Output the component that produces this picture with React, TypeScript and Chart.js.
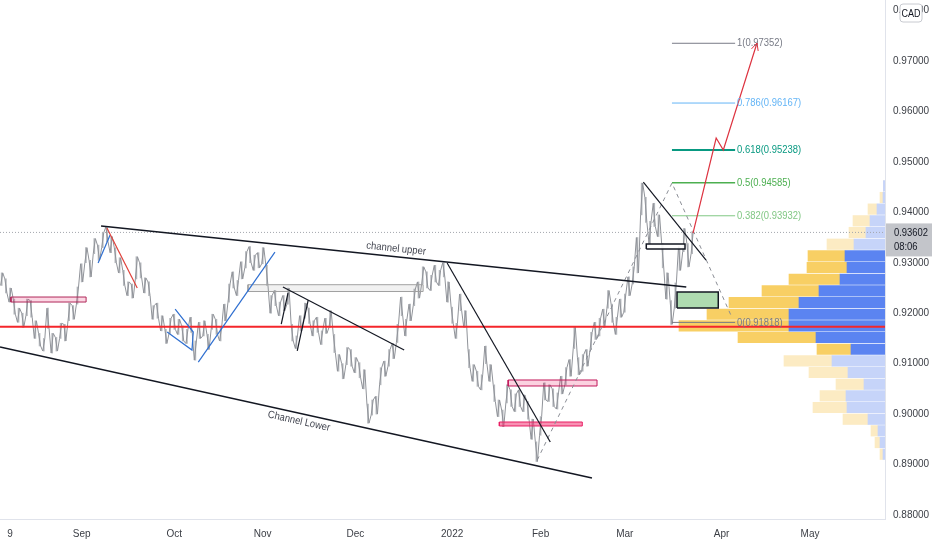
import React, { useEffect, useRef } from 'react';
import { Chart, registerables } from 'chart.js';

Chart.register(...registerables);

// Daily bars, index 0 = Aug 9 2021 (weekdays only), first bar is index -2
const firstDay = -2;
const dayLows = [
  0.9255, 0.9240, 0.9222, 0.9198, 0.9182, 0.9172, 0.9195, 0.9192, 0.9150, 0.9135,
  0.9125, 0.9170, 0.9121, 0.9125, 0.9150, 0.9145, 0.9185, 0.9188, 0.9218, 0.9262,
  0.9300, 0.9272, 0.9318, 0.9305, 0.9330, 0.9342, 0.9320, 0.9300, 0.9280, 0.9255,
  0.9235, 0.9230, 0.9268, 0.9270, 0.9240, 0.9235, 0.9188, 0.9190, 0.9165, 0.9140,
  0.9160, 0.9168, 0.9158, 0.9145, 0.9140, 0.9162, 0.9107, 0.9150, 0.9155, 0.9128,
  0.9168, 0.9158, 0.9145, 0.9185, 0.9222, 0.9250, 0.9235, 0.9268, 0.9290, 0.9300,
  0.9285, 0.9290, 0.9298, 0.9255, 0.9200, 0.9215, 0.9195, 0.9205, 0.9218, 0.9145,
  0.9130, 0.9165, 0.9190, 0.9180, 0.9155, 0.9162, 0.9138, 0.9160, 0.9172, 0.9122,
  0.9085, 0.9070, 0.9098, 0.9095, 0.9082, 0.9072, 0.9050, 0.8982, 0.8998, 0.9000,
  0.9058, 0.9075, 0.9095, 0.9110, 0.9142, 0.9195, 0.9155, 0.9185, 0.9215, 0.9230,
  0.9258, 0.9250, 0.9245, 0.9262, 0.9255, 0.9272, 0.9222, 0.9180, 0.9150, 0.9205,
  0.9172, 0.9092, 0.9065, 0.9055, 0.9048, 0.9100, 0.9065, 0.9025, 0.8995, 0.8975,
  0.9022, 0.9015, 0.9005, 0.9015, 0.9005, 0.8990, 0.8950, 0.8906, 0.8958, 0.9028,
  0.9025, 0.9015, 0.9010, 0.9040, 0.9058, 0.9075, 0.9130, 0.9078, 0.9085, 0.9095,
  0.9128, 0.9148, 0.9155, 0.9172, 0.9210, 0.9182, 0.9158, 0.9192, 0.9202, 0.9235,
  0.9258, 0.9280, 0.9395, 0.9380, 0.9338, 0.9372, 0.9352, 0.9290, 0.9228, 0.9178,
  0.9210, 0.9285, 0.9322, 0.9292, 0.9318,
];
const dayHighs = [
  0.9280, 0.9268, 0.9250, 0.9228, 0.9210, 0.9200, 0.9228, 0.9225, 0.9185, 0.9160,
  0.9150, 0.9210, 0.9160, 0.9152, 0.9180, 0.9178, 0.9220, 0.9215, 0.9252, 0.9298,
  0.9330, 0.9305, 0.9348, 0.9335, 0.9360, 0.9371, 0.9352, 0.9330, 0.9310, 0.9285,
  0.9262, 0.9258, 0.9312, 0.9300, 0.9270, 0.9262, 0.9215, 0.9220, 0.9195, 0.9168,
  0.9190, 0.9198, 0.9188, 0.9175, 0.9168, 0.9192, 0.9145, 0.9182, 0.9185, 0.9158,
  0.9198, 0.9188, 0.9172, 0.9218, 0.9258, 0.9282, 0.9265, 0.9302, 0.9322, 0.9332,
  0.9315, 0.9320, 0.9330, 0.9295, 0.9235, 0.9245, 0.9222, 0.9235, 0.9250, 0.9178,
  0.9155, 0.9195, 0.9220, 0.9210, 0.9185, 0.9192, 0.9165, 0.9190, 0.9205, 0.9158,
  0.9118, 0.9100, 0.9132, 0.9128, 0.9112, 0.9102, 0.9088, 0.9020, 0.9028, 0.9035,
  0.9092, 0.9105, 0.9128, 0.9140, 0.9178, 0.9232, 0.9188, 0.9218, 0.9248, 0.9262,
  0.9292, 0.9282, 0.9275, 0.9295, 0.9285, 0.9300, 0.9262, 0.9212, 0.9180, 0.9238,
  0.9205, 0.9128, 0.9098, 0.9085, 0.9078, 0.9135, 0.9098, 0.9058, 0.9028, 0.9008,
  0.9058, 0.9048, 0.9040, 0.9048, 0.9038, 0.9025, 0.8990, 0.8945, 0.8995, 0.9062,
  0.9058, 0.9050, 0.9042, 0.9075, 0.9092, 0.9108, 0.9172, 0.9112, 0.9118, 0.9128,
  0.9162, 0.9182, 0.9190, 0.9208, 0.9245, 0.9218, 0.9192, 0.9228, 0.9238, 0.9272,
  0.9292, 0.9350, 0.9458, 0.9430, 0.9382, 0.9418, 0.9395, 0.9338, 0.9280, 0.9225,
  0.9260, 0.9332, 0.9368, 0.9338, 0.9362,
];

const xMin = -2.4;
const xMax = 207.8;
const dateTicks = [0, 17, 39, 60, 82, 105, 126, 146, 169, 190];
const dateLabels = ['9', 'Sep', 'Oct', 'Nov', 'Dec', '2022', 'Feb', 'Mar', 'Apr', 'May'];
const priceMin = 0.8792;
const priceMax = 0.9821;
const priceTicks = [0.88, 0.89, 0.9, 0.91, 0.92, 0.93, 0.94, 0.95, 0.96, 0.97, 0.98];

const lastPrice = 0.93602;
const countdown = '08:06';
const currency = 'CAD';
const supportPrice = 0.91733;

// trend-based fib extension
const fibRatios = [1, 0.786, 0.618, 0.5, 0.382, 0];
const fibPrices = [0.97352, 0.96167, 0.95238, 0.94585, 0.93932, 0.91818];
const fibSpan = [157.2, 172.2];
const fibColors = ['#787b86', '#64b5f6', '#089981', '#4caf50', '#81c784', '#787b86'];
const fibWidths = [1, 1, 2, 1.5, 1, 1];

// visible range volume profile
const profileRows = [
  0.94526, 0.94294, 0.94064, 0.93832, 0.936, 0.93368, 0.93138, 0.92906,
  0.92674, 0.92444, 0.92212, 0.9198, 0.9175, 0.91518, 0.91286, 0.91056,
  0.90824, 0.90592, 0.90362, 0.9013, 0.89898, 0.89668, 0.89436, 0.89204,
];
const profileUp = [0.8, 1, 4, 7.5, 9.5, 15.5, 20, 19, 22.5, 33, 43, 48, 48, 34.5, 17, 26.5, 18.5, 10.5, 19.5, 19, 8.5, 3.5, 2.5, 1];
const profileDown = [0, 1.5, 4.5, 8.5, 8.5, 13.5, 18.5, 20, 25.5, 28.5, 35, 41, 55, 39, 17, 24, 19.5, 14, 13, 17, 12.5, 3.5, 2.5, 1.5];
const valueArea = [6, 14];
const profileMax = 442.5;

// drawings as [bar index, price]
const channelUpper = [[21.6, 0.93729], [160.6, 0.92519]];
const channelLower = [[-2.4, 0.9133], [138.2, 0.88733]];
const janTrend = [[103.8, 0.92995], [128.3, 0.89446]];
const marTrend = [[150.4, 0.94601], [165.3, 0.93055]];
const novTrend = [[64.8, 0.92519], [93.6, 0.9127]];
const novLegA = [[66.0, 0.924], [64.4, 0.91786]];
const novLegB = [[68.2, 0.91251], [70.8, 0.92262]];
const sepDrop = [[23.0, 0.93689], [30.2, 0.925]];
const sepLeg = [[20.9, 0.92995], [23.75, 0.9355]];
const octFlag = [[39.2, 0.92083], [43.5, 0.91627], [43.2, 0.9127], [37.3, 0.91627]];
const octRise = [[44.7, 0.91032], [62.9, 0.93213]];
const projection = [[162.2, 0.9359], [167.7, 0.95473], [169.4, 0.95236], [177.4, 0.97357]];
const swingPath = [[125.2, 0.89089], [157.2, 0.94581], [171.5, 0.91905]];
const channelUpperLabelAt = 91.5;
const channelLowerLabelAt = 69;

// zones as [from index, to index, low, high]
const augZone = [0.2, 18.05, 0.92222, 0.92321];
const novZone = [56.5, 98.1, 0.9243, 0.92565];
const febZoneUpper = [118.3, 139.4, 0.90557, 0.90676];
const febZoneLower = [116.2, 135.9, 0.89764, 0.89843];
const marZone = [151.1, 160.3, 0.93273, 0.93372];
const demandZone = [158.4, 168.2, 0.92103, 0.9242];

const labelFont = '"Liberation Sans", Arial, sans-serif';
const red = '#f4262b';
const squeeze = 0.82;

const seg = (pts: number[][], color: string, width: number, dash: number[] = [], order = 1) => ({
  type: 'line',
  data: pts.map(([x, y]) => ({ x, y })),
  borderColor: color,
  borderWidth: width,
  borderDash: dash,
  pointRadius: 0,
  fill: false,
  tension: 0,
  order,
  xAxisID: 'x',
  yAxisID: 'y',
});

const zone = ([x0, x1, lo, hi]: number[], fillColor: string, border: string, width = 1) => ({
  type: 'line',
  data: [
    { x: x0, y: lo }, { x: x1, y: lo }, { x: x1, y: hi }, { x: x0, y: hi }, { x: x0, y: lo },
  ],
  borderColor: border,
  backgroundColor: fillColor,
  borderWidth: width,
  pointRadius: 0,
  fill: 'shape',
  tension: 0,
  order: 2,
  xAxisID: 'x',
  yAxisID: 'y',
});

// narrow text, like the condensed chart font
const narrowText = (ctx: CanvasRenderingContext2D, text: string, x: number, y: number) => {
  ctx.save();
  ctx.translate(x, y);
  ctx.scale(squeeze, 1);
  ctx.fillText(text, 0, 0);
  ctx.restore();
};

const overlay = {
  id: 'overlay',
  afterDatasetsDraw(chart: any) {
    const { ctx, scales: { x, y } } = chart;
    ctx.save();
    ctx.font = '11.5px ' + labelFont;
    ctx.textBaseline = 'middle';
    ctx.textAlign = 'left';
    fibPrices.forEach((p, k) => {
      ctx.fillStyle = fibColors[k];
      narrowText(ctx, `${fibRatios[k]}(${p.toFixed(5)})`, x.getPixelForValue(fibSpan[1]) + 2, y.getPixelForValue(p));
    });

    const label = (text: string, line: number[][], at: number, offset: number) => {
      const [[x0, y0], [x1, y1]] = line;
      const px0 = x.getPixelForValue(x0), py0 = y.getPixelForValue(y0);
      const px1 = x.getPixelForValue(x1), py1 = y.getPixelForValue(y1);
      const t = (at - x0) / (x1 - x0);
      ctx.save();
      ctx.translate(px0 + t * (px1 - px0), py0 + t * (py1 - py0));
      ctx.rotate(Math.atan2(py1 - py0, px1 - px0));
      ctx.textAlign = 'center';
      ctx.fillStyle = '#434651';
      ctx.font = '10.5px ' + labelFont;
      ctx.scale(0.9, 1);
      ctx.fillText(text, 0, offset);
      ctx.restore();
    };
    label('channel upper', channelUpper, channelUpperLabelAt, -8);
    label('Channel Lower', channelLower, channelLowerLabelAt, 8);

    // arrow head on the projection
    const [ax, ay] = projection[projection.length - 2];
    const [bx, by] = projection[projection.length - 1];
    const tx = x.getPixelForValue(bx), ty = y.getPixelForValue(by);
    const ang = Math.atan2(ty - y.getPixelForValue(ay), tx - x.getPixelForValue(ax));
    ctx.strokeStyle = '#dd3340';
    ctx.lineWidth = 1;
    ctx.beginPath();
    ctx.moveTo(tx - 8 * Math.cos(ang - 0.45), ty - 8 * Math.sin(ang - 0.45));
    ctx.lineTo(tx, ty);
    ctx.lineTo(tx - 8 * Math.cos(ang + 0.45), ty - 8 * Math.sin(ang + 0.45));
    ctx.stroke();
    ctx.restore();
  },
  afterDraw(chart: any) {
    const { ctx, chartArea, width, scales: { y } } = chart;
    const py = y.getPixelForValue(lastPrice);
    ctx.save();
    ctx.fillStyle = '#c3c5ca';
    ctx.fillRect(chartArea.right + 1, py - 9, width - chartArea.right - 1, 33);
    ctx.fillStyle = '#131722';
    ctx.font = '11.5px ' + labelFont;
    ctx.textBaseline = 'middle';
    ctx.textAlign = 'left';
    narrowText(ctx, lastPrice.toFixed(5), chartArea.right + 9, py);
    narrowText(ctx, countdown, chartArea.right + 9, py + 14);

    // currency badge
    const bx = chartArea.right + 15;
    ctx.fillStyle = '#ffffff';
    ctx.strokeStyle = '#c8cad0';
    ctx.beginPath();
    ctx.roundRect(bx, 4, 22, 18, 3);
    ctx.fill();
    ctx.stroke();
    ctx.fillStyle = '#131722';
    ctx.font = '11px ' + labelFont;
    ctx.textAlign = 'center';
    ctx.save();
    ctx.translate(bx + 11, 13.5);
    ctx.scale(squeeze, 1);
    ctx.fillText(currency, 0, 0);
    ctx.restore();
    ctx.restore();
  },
};

const PriceChart = () => {
  const canvasRef = useRef<HTMLCanvasElement>(null);

  useEffect(() => {
    document.body.style.margin = '0';
    if (!canvasRef.current) return;

    const pricePath = dayLows.flatMap((lo, k) => {
      const hi = dayHighs[k];
      const d = firstDay + k;
      return k % 2
        ? [{ x: d - 0.25, y: hi }, { x: d + 0.25, y: lo }]
        : [{ x: d - 0.25, y: lo }, { x: d + 0.25, y: hi }];
    });
    const rangeBars = dayLows.map((lo, k) => ({ x: firstDay + k, y: [lo, dayHighs[k]] }));

    const inValueArea = (r: number) => r >= valueArea[0] && r <= valueArea[1];
    const upBars = profileRows.map((p, r) => ({ x: [0, profileUp[r]], y: p }));
    const downBars = profileRows.map((p, r) => ({ x: [profileUp[r], profileUp[r] + profileDown[r]], y: p }));

    const fibLines = fibPrices.map((p, k) =>
      seg([[fibSpan[0], p], [fibSpan[1], p]], fibColors[k], fibWidths[k]));

    const datasets: any[] = [
      seg(projection, '#dd3340', 1.2),
      seg(channelUpper, '#131722', 1.5),
      seg(channelLower, '#131722', 1.5),
      seg(janTrend, '#131722', 1.2),
      seg(marTrend, '#131722', 1.2),
      seg(novTrend, '#131722', 1.2),
      seg(novLegA, '#131722', 1.2),
      seg(novLegB, '#131722', 1.2),
      seg(sepDrop, '#e0403a', 1.2),
      seg(sepLeg, '#2f6fd0', 1.2),
      seg(octFlag, '#2f6fd0', 1.2),
      seg(octRise, '#2f6fd0', 1.2),
      seg(swingPath, '#8a8d95', 1, [4, 4]),
      ...fibLines,
      seg([[xMin, supportPrice], [xMax, supportPrice]], red, 2),
      zone(augZone, 'rgba(233, 30, 99, 0.18)', '#b0285a'),
      zone(novZone, 'rgba(158, 158, 158, 0.15)', '#a0a0a0'),
      zone(febZoneUpper, 'rgba(233, 30, 99, 0.2)', '#c2185b'),
      zone(febZoneLower, 'rgba(242, 54, 117, 0.55)', '#e91e63'),
      zone(marZone, 'rgba(255, 255, 255, 0.9)', '#131722', 1.5),
      zone(demandZone, 'rgba(76, 175, 80, 0.45)', '#131722', 1.5),
      {
        type: 'line',
        data: pricePath,
        borderColor: '#909399',
        borderWidth: 1,
        pointRadius: 0,
        tension: 0,
        order: 3,
        xAxisID: 'x',
        yAxisID: 'y',
      },
      {
        type: 'bar',
        data: rangeBars,
        backgroundColor: '#b4b7bc',
        borderWidth: 0,
        barThickness: 1,
        grouped: false,
        order: 4,
        xAxisID: 'x',
        yAxisID: 'y',
      },
      seg([[xMin, lastPrice], [xMax, lastPrice]], '#a3a6ad', 1, [1, 2], 5),
      {
        type: 'bar',
        indexAxis: 'y',
        xAxisID: 'xv',
        yAxisID: 'y',
        data: upBars,
        backgroundColor: profileRows.map((_, r) => (inValueArea(r) ? '#5b84f1' : '#c6d4f9')),
        borderWidth: 0,
        barThickness: 10.5,
        grouped: false,
        order: 10,
      },
      {
        type: 'bar',
        indexAxis: 'y',
        xAxisID: 'xv',
        yAxisID: 'y',
        data: downBars,
        backgroundColor: profileRows.map((_, r) => (inValueArea(r) ? '#f8cf64' : '#fcebc3')),
        borderWidth: 0,
        barThickness: 10.5,
        grouped: false,
        order: 10,
      },
    ];

    const chart = new Chart(canvasRef.current, {
      type: 'line',
      data: { datasets },
      options: {
        responsive: true,
        maintainAspectRatio: false,
        animation: false,
        events: [],
        layout: { padding: 0 },
        plugins: {
          legend: { display: false },
          tooltip: { enabled: false },
        },
        scales: {
          x: {
            type: 'linear',
            position: 'bottom',
            min: xMin,
            max: xMax,
            offset: false,
            grid: { display: false, drawTicks: false, offset: false },
            border: { display: true, color: '#e0e3eb', width: 1 },
            afterBuildTicks: (s: any) => {
              s.ticks = dateTicks.map((v) => ({ value: v }));
            },
            afterFit: (s: any) => {
              s.height = 31;
              s.paddingLeft = 0;
              s.paddingRight = 0;
            },
            ticks: {
              autoSkip: false,
              maxRotation: 0,
              padding: 9,
              color: '#3b3e45',
              font: { family: labelFont, size: 10 },
              callback: (v: any) => {
                const k = dateTicks.indexOf(Number(v));
                return k >= 0 ? dateLabels[k] : '';
              },
            },
          },
          y: {
            type: 'linear',
            position: 'right',
            min: priceMin,
            max: priceMax,
            offset: false,
            grid: { display: false, drawTicks: false, offset: false },
            border: { display: true, color: '#e0e3eb', width: 1 },
            afterBuildTicks: (s: any) => {
              s.ticks = priceTicks.map((v) => ({ value: v }));
            },
            afterFit: (s: any) => {
              s.width = 47;
              s.paddingTop = 0;
              s.paddingBottom = 0;
            },
            ticks: {
              padding: 8,
              color: '#3b3e45',
              font: { family: labelFont, size: 10 },
              callback: (v: any) => Number(v).toFixed(5),
            },
          },
          xv: {
            axis: 'x',
            type: 'linear',
            display: false,
            min: 0,
            max: profileMax,
            reverse: true,
            offset: false,
          },
        },
      } as any,
      plugins: [overlay],
    } as any);

    return () => {
      chart.destroy();
    };
  }, []);

  return (
    <div style={{ position: 'fixed', left: 0, top: 0, width: '932px', height: '550px', background: '#ffffff' }}>
      <canvas ref={canvasRef} />
    </div>
  );
};

export default function App() {
  return <PriceChart />;
}
